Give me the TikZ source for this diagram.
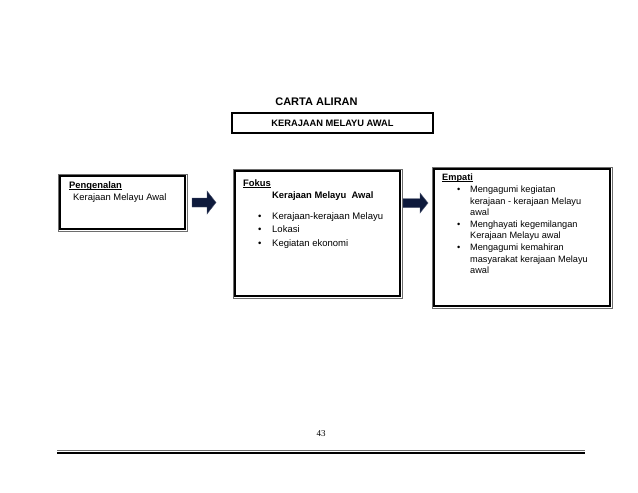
\documentclass[tikz,border=0pt]{standalone}
\usepackage{fontspec}
\setmainfont{Liberation Sans}
\newfontfamily\serifnum{Liberation Serif}
\definecolor{navy}{RGB}{14,26,60}
\definecolor{rimgray}{RGB}{110,110,110}
\newcommand\myul[1]{\setbox0\hbox{#1}\rlap{\rule[-1.1pt]{\wd0}{0.6pt}}\box0}
\begin{document}
\begin{tikzpicture}[x=1pt,y=-1pt,
  box/.style={draw=black, line width=1.6pt, rectangle, inner sep=0pt},
  rim/.style={draw=rimgray, line width=0.6pt},
  txt/.style={inner sep=0pt, anchor=north west, align=left, font=\fontsize{9.2}{11.6}\selectfont},
  blockarrow/.style={fill=navy, draw=navy!75!white, line width=0.4pt}
]
\useasboundingbox (0,0) rectangle (638,493);

% title
\node[font=\bfseries\fontsize{11}{13}\selectfont, inner sep=0pt] (title) at (316.5,101.5) {CARTA ALIRAN};
\node[draw=black, line width=1.3pt, minimum width=201pt, minimum height=20pt, inner sep=0pt,
      font=\bfseries\fontsize{9.3}{11}\selectfont] (topic) at (332.5,123) {KERAJAAN MELAYU AWAL};

% boxes
\node[box, minimum width=125pt, minimum height=53pt] (pbox) at (122.5,202.5) {};
\node[box, minimum width=165pt, minimum height=125pt] (fbox) at (317.5,233.5) {};
\node[box, minimum width=176pt, minimum height=137pt] (ebox) at (522,237.5) {};
\foreach \b in {pbox,fbox,ebox}{
  \draw[rim] ([shift={(-1.3pt,1.3pt)}]\b.north west) rectangle ([shift={(1.3pt,-1.3pt)}]\b.south east);
}

% texts
\node[txt, font=\fontsize{9.4}{11.6}\selectfont] (ptxt) at (69,181.5) {\myul{\textbf{Pengenalan}}\\\hspace*{4pt}Kerajaan Melayu Awal};
\node[txt, font=\fontsize{9.4}{11.6}\selectfont] (ftitle) at (243,179.5) {\myul{\textbf{Fokus}}\\\hspace*{29pt}\textbf{Kerajaan Melayu\ \ Awal}};
\node[txt, font=\fontsize{9.5}{13.4}\selectfont] (flist) at (258,212.5)
  {\makebox[14pt][l]{\textbullet}Kerajaan-kerajaan Melayu\\
   \makebox[14pt][l]{\textbullet}Lokasi\\
   \makebox[14pt][l]{\textbullet}Kegiatan ekonomi};
\node[txt] (etxt) at (442,173.5)
  {\myul{\textbf{Empati}}\\[0.6pt]
   \hspace*{15pt}\makebox[13pt][l]{\textbullet}Mengagumi kegiatan\\
   \hspace*{28pt}kerajaan - kerajaan Melayu\\
   \hspace*{28pt}awal\\
   \hspace*{15pt}\makebox[13pt][l]{\textbullet}Menghayati kegemilangan\\
   \hspace*{28pt}Kerajaan Melayu awal\\
   \hspace*{15pt}\makebox[13pt][l]{\textbullet}Mengagumi kemahiran\\
   \hspace*{28pt}masyarakat kerajaan Melayu\\
   \hspace*{28pt}awal};

% block arrows
\draw[blockarrow] (192,198) -- (207,198) -- (207,191) -- (216,202.5) -- (207,214) -- (207,207) -- (192,207) -- cycle;
\draw[blockarrow] (403,198.5) -- (420,198.5) -- (420,193) -- (428,203) -- (420,213) -- (420,207.5) -- (403,207.5) -- cycle;

% footer
\node[font=\serifnum\fontsize{9}{10}\selectfont, inner sep=0pt] (pg) at (321,434) {43};
\draw[draw=rimgray, line width=0.8pt] (57,450.3) -- (585,450.3);
\draw[black, line width=2.2pt] (57,452.8) -- (585,452.8);
\end{tikzpicture}
\end{document}
